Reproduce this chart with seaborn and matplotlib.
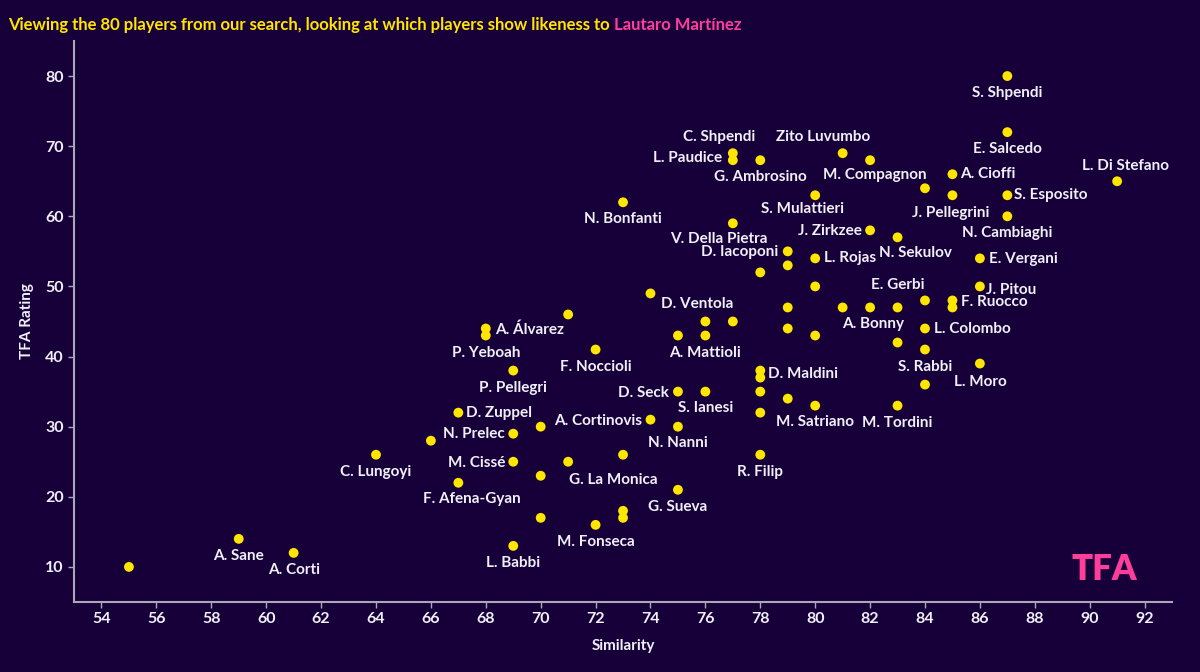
import seaborn as sns
import matplotlib.pyplot as plt
import pandas as pd

# Player data
players = [
    "", "A. Sane", "A. Corti", "C. Lungoyi", "", "D. Zuppel", "F. Afena-Gyan",
    "A. Álvarez", "P. Yeboah", "P. Pellegri", "N. Prelec", "M. Cissé", "L. Babbi",
    "", "", "", "", "", "F. Noccioli", "M. Fonseca", "N. Bonfanti", "G. La Monica",
    "", "", "", "A. Cortinovis", "", "D. Seck", "N. Nanni", "G. Sueva",
    "A. Mattioli", "D. Ventola", "S. Ianesi", "", "C. Shpendi", "L. Paudice",
    "V. Della Pietra", "G. Ambrosino", "", "D. Maldini", "", "", "", "R. Filip",
    "D. Iacoponi", "", "", "", "", "S. Mulattieri", "L. Rojas", "", "",
    "M. Satriano", "Zito Luvumbo", "", "M. Compagnon", "J. Zirkzee", "A. Bonny",
    "N. Sekulov", "E. Gerbi", "", "M. Tordini", "", "", "L. Colombo", "S. Rabbi",
    "", "A. Cioffi", "J. Pellegrini", "F. Ruocco", "", "E. Vergani", "J. Pitou",
    "L. Moro", "S. Shpendi", "E. Salcedo", "S. Esposito", "N. Cambiaghi",
    "L. Di Stefano",
]
similarity = [
    55, 59, 61, 64, 66, 67, 67,
    68, 68, 69, 69, 69, 69,
    70, 70, 70, 71, 71, 72, 72, 73, 73,
    73, 73, 74, 74, 75, 75, 75, 75,
    76, 76, 76, 77, 77, 77,
    77, 78, 78, 78, 78, 78, 78, 78,
    79, 79, 79, 79, 79, 80, 80, 80, 80,
    80, 81, 81, 82, 82, 82,
    83, 83, 83, 83, 84, 84, 84, 84,
    84, 85, 85, 85, 85, 86, 86,
    86, 87, 87, 87, 87,
    91,
]
rating = [
    10, 14, 12, 26, 28, 32, 22,
    44, 43, 38, 29, 25, 13,
    30, 23, 17, 46, 25, 41, 16, 62, 26,
    18, 17, 49, 31, 43, 35, 30, 21,
    43, 45, 35, 45, 69, 68,
    59, 68, 52, 38, 37, 35, 32, 26,
    55, 53, 47, 44, 34, 63, 54, 50, 43,
    33, 69, 47, 68, 58, 47,
    57, 47, 42, 33, 64, 48, 44, 41,
    36, 66, 63, 48, 47, 54, 50,
    39, 80, 72, 63, 60,
    65,
]
x_ticks = list(range(54, 93, 2))
y_ticks = list(range(10, 81, 10))

# label placement: offset in pixels from the point, horizontal alignment
label_pos = {
    "A. Sane": (0, -17, "center"), "A. Corti": (0, -17, "center"),
    "C. Lungoyi": (0, -17, "center"), "D. Zuppel": (8, 0, "left"),
    "F. Afena-Gyan": (14, -16, "center"), "A. Álvarez": (9, -1, "left"),
    "P. Yeboah": (0, -17, "center"), "P. Pellegri": (0, -17, "center"),
    "N. Prelec": (-8, 0, "right"), "M. Cissé": (-8, -1, "right"),
    "L. Babbi": (0, -17, "center"), "F. Noccioli": (0, -17, "center"),
    "M. Fonseca": (0, -17, "center"), "N. Bonfanti": (0, -17, "center"),
    "G. La Monica": (-10, -25, "center"), "A. Cortinovis": (-8, -1, "right"),
    "D. Seck": (-9, -1, "right"), "N. Nanni": (0, -16, "center"),
    "G. Sueva": (0, -17, "center"), "A. Mattioli": (0, -17, "center"),
    "D. Ventola": (-8, 17, "center"), "S. Ianesi": (0, -16, "center"),
    "C. Shpendi": (-14, 16, "center"), "L. Paudice": (-11, 2, "right"),
    "V. Della Pietra": (-14, -16, "center"), "G. Ambrosino": (0, -17, "center"),
    "D. Maldini": (8, -3, "left"), "R. Filip": (0, -17, "center"),
    "D. Iacoponi": (-9, -1, "right"), "S. Mulattieri": (-13, -14, "center"),
    "L. Rojas": (9, 0, "left"), "M. Satriano": (0, -16, "center"),
    "Zito Luvumbo": (-20, 16, "center"), "M. Compagnon": (5, -15, "center"),
    "J. Zirkzee": (-8, -1, "right"), "A. Bonny": (3, -17, "center"),
    "N. Sekulov": (18, -16, "center"), "E. Gerbi": (0, 22, "center"),
    "M. Tordini": (0, -17, "center"), "L. Colombo": (9, -1, "left"),
    "S. Rabbi": (0, -17, "center"), "A. Cioffi": (8, 0, "left"),
    "J. Pellegrini": (-2, -18, "center"), "F. Ruocco": (9, -2, "left"),
    "E. Vergani": (9, -1, "left"), "J. Pitou": (6, -4, "left"),
    "L. Moro": (0, -18, "center"), "S. Shpendi": (0, -17, "center"),
    "E. Salcedo": (0, -17, "center"), "S. Esposito": (7, 0, "left"),
    "N. Cambiaghi": (0, -17, "center"), "L. Di Stefano": (8, 15, "center"),
}

df = pd.DataFrame({"player": players, "Similarity": similarity, "TFA Rating": rating})

bg = "#170039"
fg = "#f0f0f8"
plt.rcParams["font.family"] = ["Lato", "DejaVu Sans"]
plt.rcParams["font.weight"] = "bold"

fig = plt.figure(figsize=(12, 6.72), dpi=100, facecolor=bg)
ax = fig.add_axes([0.0617, 0.1042, 0.915, 0.8348])
ax.set_facecolor(bg)

sns.scatterplot(data=df, x="Similarity", y="TFA Rating", color="#ffe600",
                s=50, edgecolor="none", ax=ax, zorder=3)

for _, row in df.iterrows():
    if row["player"]:
        dx, dy, ha = label_pos[row["player"]]
        ax.annotate(row["player"], (row["Similarity"], row["TFA Rating"]),
                    xytext=(dx, dy), textcoords="offset pixels", ha=ha, va="center",
                    color=fg, fontsize=11, fontweight="bold", zorder=4)

ax.set_xlim(53, 93)
ax.set_ylim(5, 85)
ax.set_xticks(x_ticks)
ax.set_yticks(y_ticks)
ax.tick_params(colors="#a8a8b8", labelcolor=fg, labelsize=11.5, length=4, width=1)
for lab in ax.get_xticklabels() + ax.get_yticklabels():
    lab.set_fontweight("bold")
for side in ["top", "right"]:
    ax.spines[side].set_visible(False)
for side in ["left", "bottom"]:
    ax.spines[side].set_color("#a8a8b8")
    ax.spines[side].set_linewidth(1.5)
ax.set_xlabel("Similarity", color=fg, fontsize=11, fontweight="bold", labelpad=9)
ax.set_ylabel("TFA Rating", color=fg, fontsize=11, fontweight="bold", labelpad=8)

# title in two colours
t1 = fig.text(0.007, 0.963, "Viewing the 80 players from our search, looking at which players show likeness to ",
              color="#ffe600", fontsize=12, fontweight="bold", va="center", ha="left")
fig.canvas.draw()
bb = t1.get_window_extent()
x1 = bb.x1 / fig.bbox.width
fig.text(x1, 0.963, "Lautaro Martínez", color="#ff3d9a", fontsize=12,
         fontweight="bold", va="center", ha="left")

# logo
fig.text(0.9205, 0.152, "TFA", color="#ff3d9a", fontsize=25, fontweight="heavy",
         ha="center", va="center", family=["Lato", "DejaVu Sans"])

fig.savefig("out.png", dpi=100, facecolor=bg)
